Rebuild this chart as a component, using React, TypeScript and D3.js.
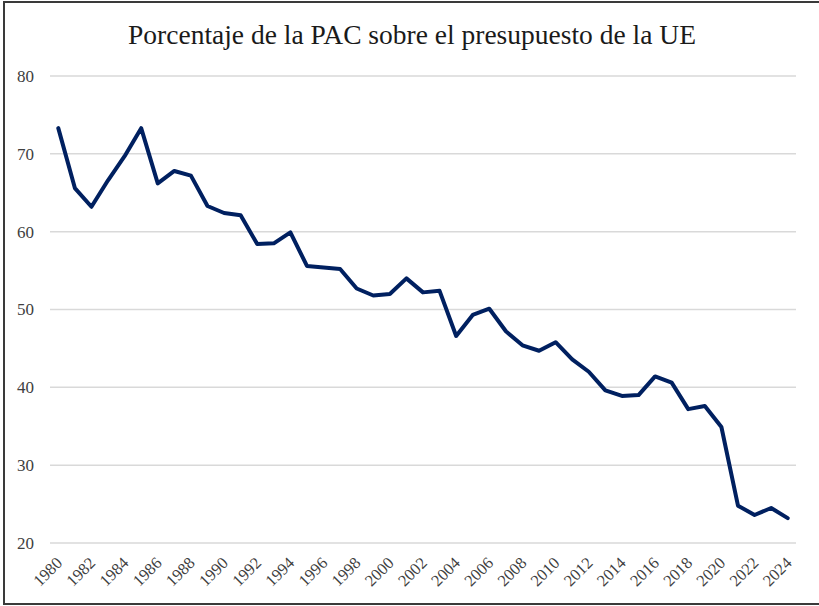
import { useMemo } from 'react';
import * as d3 from 'd3';

const TITLE = 'Porcentaje de la PAC sobre el presupuesto de la UE';

const YEARS = [
  1980, 1981, 1982, 1983, 1984, 1985, 1986, 1987, 1988, 1989,
  1990, 1991, 1992, 1993, 1994, 1995, 1996, 1997, 1998, 1999,
  2000, 2001, 2002, 2003, 2004, 2005, 2006, 2007, 2008, 2009,
  2010, 2011, 2012, 2013, 2014, 2015, 2016, 2017, 2018, 2019,
  2020, 2021, 2022, 2023, 2024,
];

const CAP_SHARE = [
  73.3, 65.6, 63.2, 66.6, 69.7, 73.3, 66.2, 67.8, 67.2, 63.3,
  62.4, 62.1, 58.4, 58.5, 59.9, 55.6, 55.4, 55.2, 52.7, 51.8,
  52.0, 54.0, 52.2, 52.4, 46.6, 49.3, 50.1, 47.2, 45.4, 44.7,
  45.8, 43.6, 42.0, 39.6, 38.9, 39.0, 41.4, 40.6, 37.2, 37.6,
  34.9, 24.8, 23.6, 24.5, 23.2,
];

const Y_TICKS = [20, 30, 40, 50, 60, 70, 80];
const X_LABEL_YEARS = YEARS.filter(y => y % 2 === 0);

const W = 819;
const H = 606;
const PLOT = { left: 50, right: 796, top: 76, bottom: 543 };
const FONT = 'Liberation Serif, Times New Roman, serif';

export default function App() {
  const x = useMemo(
    () => d3.scalePoint<number>().domain(YEARS).range([PLOT.left, PLOT.right]).padding(0.5),
    []
  );
  const y = useMemo(
    () => d3.scaleLinear().domain([20, 80]).range([PLOT.bottom, PLOT.top]),
    []
  );

  const line = d3.line<number>()
    .x((_, i) => x(YEARS[i])!)
    .y(d => y(d));

  return (
    <svg
      width={W}
      height={H}
      style={{ position: 'absolute', left: 0, top: 0, background: '#fff' }}
    >
      <rect x={0} y={0} width={W} height={H} fill="#fff" />
      {/* frame */}
      <rect x={4} y={2} width={W + 10} height={602} fill="none" stroke="#3a3a3a" strokeWidth={2} />

      <text
        x={412}
        y={44}
        textAnchor="middle"
        fontFamily={FONT}
        fontSize={27.5}
        fill="#1a1a1a"
      >
        {TITLE}
      </text>

      {/* grid */}
      {Y_TICKS.map(t => (
        <g key={t}>
          <line x1={PLOT.left} x2={PLOT.right} y1={y(t)} y2={y(t)} stroke="#d9d9d9" strokeWidth={1.5} />
          <text
            x={34}
            y={y(t)}
            dy="0.35em"
            textAnchor="end"
            fontFamily={FONT}
            fontSize={17}
            fill="#404040"
          >
            {t}
          </text>
        </g>
      ))}

      {/* x labels */}
      {X_LABEL_YEARS.map(yr => {
        const px = x(yr)! + 5;
        const py = 564;
        return (
          <text
            key={yr}
            transform={`translate(${px},${py}) rotate(-45)`}
            textAnchor="end"
            fontFamily={FONT}
            fontSize={16.5}
            fill="#404040"
          >
            {yr}
          </text>
        );
      })}

      <path
        d={line(CAP_SHARE) || ''}
        fill="none"
        stroke="#002060"
        strokeWidth={4}
        strokeLinejoin="round"
        strokeLinecap="round"
      />
    </svg>
  );
}
